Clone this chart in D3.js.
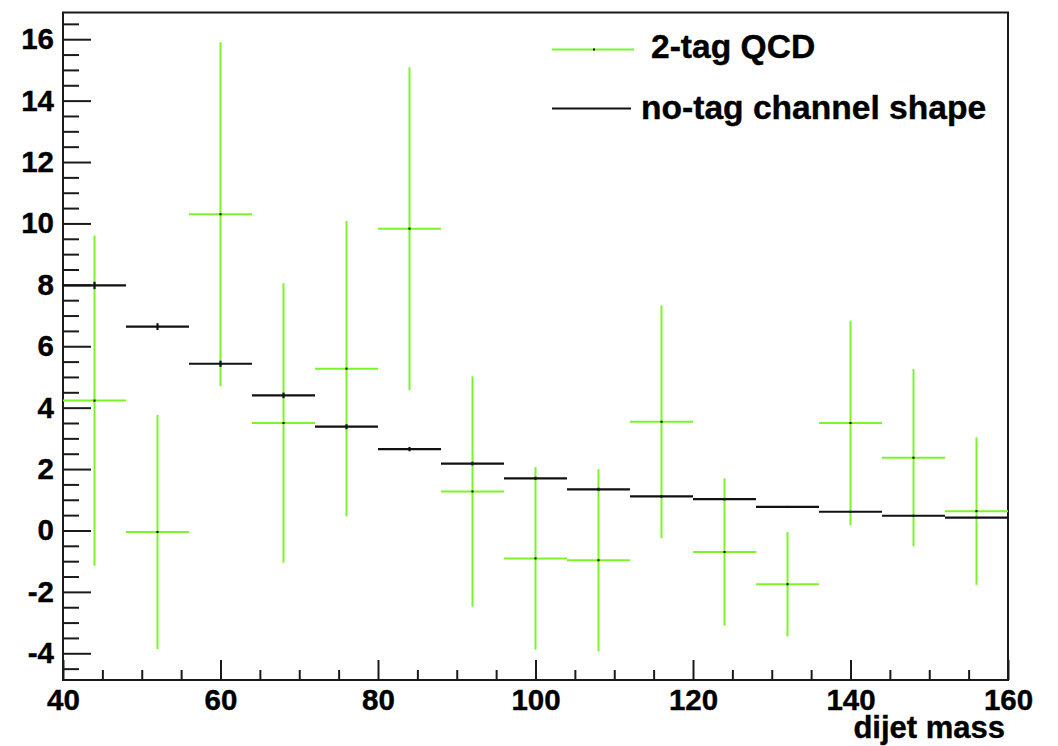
<!DOCTYPE html>
<html>
<head>
<meta charset="utf-8">
<script src="https://d3js.org/d3.v7.min.js"></script>
<style>
  html, body { margin: 0; padding: 0; background: #fff; }
  svg { display: block; }
  text { font-family: "Liberation Sans", Arial, Helvetica, sans-serif; font-weight: bold; fill: #000; }
</style>
</head>
<body>
<svg id="chart" width="1058" height="746"></svg>
<script>
// Dijet mass bins (GeV): 15 bins of width 8 from 40 to 160
const binEdges = [40, 48, 56, 64, 72, 80, 88, 96, 104, 112, 120, 128, 136, 144, 152, 160];

// 2-tag QCD estimate and its uncertainty per bin
const qcdValues = [4.23, -0.05, 10.3, 3.5, 5.27, 9.83, 1.27, -0.91, -0.97, 3.54, -0.70, -1.75, 3.50, 2.37, 0.63];
const qcdErrors = [5.38, 3.81, 5.6, 4.55, 4.81, 5.26, 3.75, 2.97, 2.97, 3.79, 2.40, 1.70, 3.33, 2.89, 2.40];

// no-tag channel shape, normalised, with small statistical errors
const shapeValues = [7.98, 6.64, 5.43, 4.40, 3.38, 2.65, 2.18, 1.70, 1.34, 1.11, 1.02, 0.77, 0.61, 0.48, 0.42];
const shapeErrors = [0.12, 0.11, 0.10, 0.09, 0.08, 0.07, 0.06, 0.05, 0.05, 0.04, 0.04, 0.03, 0.03, 0.03, 0.03];

// Axis ticks
const xMajorTicks = [40, 60, 80, 100, 120, 140, 160];
const xMinorTicks = d3.range(45, 160, 5).filter(v => v % 20 !== 0);
const yMajorTicks = [-4, -2, 0, 2, 4, 6, 8, 10, 12, 14, 16];
const yMinorTicks = d3.range(-4.5, 16.6, 0.5).filter(v => v % 2 !== 0);

const legendLabels = ["2-tag QCD", "no-tag channel shape"];
const xTitle = "dijet mass";

const GREEN = "#7cf42a";
const DARK = "#111";

const frame = { left: 63, right: 1008, top: 12.5, bottom: 680 };

const x = d3.scaleLinear().domain([40, 160]).range([frame.left, frame.right]);
const y = d3.scaleLinear().domain([-4.87, 16.87]).range([frame.bottom, frame.top]);

const svg = d3.select("#chart");

const bins = qcdValues.map((v, i) => ({
  lo: binEdges[i], hi: binEdges[i + 1], mid: (binEdges[i] + binEdges[i + 1]) / 2,
  qcd: v, qcdErr: qcdErrors[i], shape: shapeValues[i], shapeErr: shapeErrors[i]
}));

// ---- axes ----
function styleAxis(g) {
  g.select(".domain").remove();
  g.selectAll(".tick line").attr("stroke", "#1a1a1a").attr("stroke-width", 2);
  g.selectAll(".tick text").attr("font-size", 29.5).attr("font-family", null).attr("fill", "#000")
    .attr("stroke", "#000").attr("stroke-width", 0.4);
}

svg.append("g")
  .attr("transform", `translate(${frame.left},0)`)
  .call(d3.axisLeft(y).tickValues(yMinorTicks).tickSizeInner(-16).tickSizeOuter(0).tickFormat(""))
  .call(styleAxis);

svg.append("g")
  .attr("transform", `translate(${frame.left},0)`)
  .call(d3.axisLeft(y).tickValues(yMajorTicks).tickSizeInner(-28).tickSizeOuter(0).tickPadding(9).tickFormat(d => String(d)))
  .call(styleAxis);

svg.append("g")
  .attr("transform", `translate(0,${frame.bottom})`)
  .call(d3.axisBottom(x).tickValues(xMinorTicks).tickSizeInner(-10).tickSizeOuter(0).tickFormat(""))
  .call(styleAxis);

svg.append("g")
  .attr("transform", `translate(0,${frame.bottom})`)
  .call(d3.axisBottom(x).tickValues(xMajorTicks).tickSizeInner(-20).tickSizeOuter(0).tickPadding(9).tickFormat(d => String(d)))
  .call(styleAxis);

// frame around the plotting area
svg.append("rect")
  .attr("x", frame.left).attr("y", frame.top)
  .attr("width", frame.right - frame.left).attr("height", frame.bottom - frame.top)
  .attr("fill", "none").attr("stroke", "#1a1a1a").attr("stroke-width", 2);

// ---- 2-tag QCD points with error bars ----
const qcd = svg.append("g").attr("stroke", GREEN).attr("stroke-width", 2);
qcd.selectAll("line.h").data(bins).join("line").attr("class", "h")
  .attr("x1", d => x(d.lo)).attr("x2", d => x(d.hi))
  .attr("y1", d => y(d.qcd)).attr("y2", d => y(d.qcd));
qcd.selectAll("line.v").data(bins).join("line").attr("class", "v")
  .attr("x1", d => x(d.mid)).attr("x2", d => x(d.mid))
  .attr("y1", d => y(d.qcd - d.qcdErr)).attr("y2", d => y(d.qcd + d.qcdErr));
svg.append("g").selectAll("rect").data(bins).join("rect")
  .attr("x", d => x(d.mid) - 1).attr("y", d => y(d.qcd) - 1)
  .attr("width", 2).attr("height", 2).attr("fill", "#000");

// ---- no-tag channel shape ----
const shape = svg.append("g").attr("stroke", DARK).attr("stroke-width", 2.2);
shape.selectAll("line.h").data(bins).join("line").attr("class", "h")
  .attr("x1", d => x(d.lo)).attr("x2", d => x(d.hi))
  .attr("y1", d => y(d.shape)).attr("y2", d => y(d.shape));
shape.selectAll("line.v").data(bins).join("line").attr("class", "v")
  .attr("x1", d => x(d.mid)).attr("x2", d => x(d.mid))
  .attr("y1", d => y(d.shape - d.shapeErr)).attr("y2", d => y(d.shape + d.shapeErr));

// ---- legend ----
const legend = svg.append("g");
legend.append("line").attr("x1", 552).attr("x2", 634).attr("y1", 49.5).attr("y2", 49.5)
  .attr("stroke", GREEN).attr("stroke-width", 2);
legend.append("rect").attr("x", 593).attr("y", 48.5).attr("width", 2).attr("height", 2).attr("fill", "#000");
legend.append("text").attr("x", 651).attr("y", 58).attr("font-size", 33.6)
  .attr("stroke", "#000").attr("stroke-width", 0.4).text(legendLabels[0]);
legend.append("line").attr("x1", 552).attr("x2", 631).attr("y1", 108.5).attr("y2", 108.5)
  .attr("stroke", DARK).attr("stroke-width", 2);
legend.append("text").attr("x", 641).attr("y", 119).attr("font-size", 33.6)
  .attr("stroke", "#000").attr("stroke-width", 0.4).text(legendLabels[1]);

// ---- axis title ----
svg.append("text").attr("x", 1005).attr("y", 738).attr("text-anchor", "end")
  .attr("font-size", 31).attr("stroke", "#000").attr("stroke-width", 0.4).text(xTitle);
</script>
</body>
</html>
